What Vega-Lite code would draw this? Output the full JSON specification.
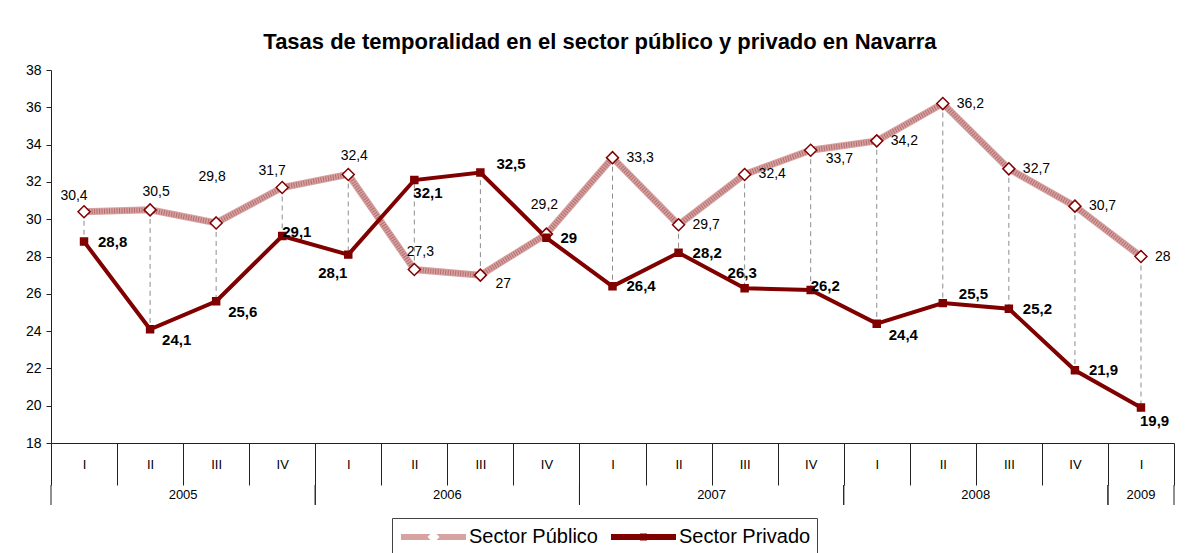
{
  "$schema": "https://vega.github.io/schema/vega-lite/v6.json",
  "padding": {"left": 25, "top": 31, "right": 10, "bottom": 5},
  "title": {"text": "Tasas de temporalidad en el sector público y privado en Navarra", "fontSize": 22, "fontWeight": "bold", "color": "#000", "offset": 9, "anchor": "middle", "frame": "bounds"},
  "config": {
    "view": {"stroke": null},
    "font": "Liberation Sans",
    "axisY": {"labelOverlap": false},
    "locale": {"number": {"decimal": ",", "thousands": ".", "grouping": [3], "currency": ["", " €"]}}
  },
  "data": {"values": [
    {"periodo": "2005 I", "anio": "2005", "trimestre": "I", "serie": "Sector Público", "valor": 30.4},
    {"periodo": "2005 I", "anio": "2005", "trimestre": "I", "serie": "Sector Privado", "valor": 28.8},
    {"periodo": "2005 II", "anio": "2005", "trimestre": "II", "serie": "Sector Público", "valor": 30.5},
    {"periodo": "2005 II", "anio": "2005", "trimestre": "II", "serie": "Sector Privado", "valor": 24.1},
    {"periodo": "2005 III", "anio": "2005", "trimestre": "III", "serie": "Sector Público", "valor": 29.8},
    {"periodo": "2005 III", "anio": "2005", "trimestre": "III", "serie": "Sector Privado", "valor": 25.6},
    {"periodo": "2005 IV", "anio": "2005", "trimestre": "IV", "serie": "Sector Público", "valor": 31.7},
    {"periodo": "2005 IV", "anio": "2005", "trimestre": "IV", "serie": "Sector Privado", "valor": 29.1},
    {"periodo": "2006 I", "anio": "2006", "trimestre": "I", "serie": "Sector Público", "valor": 32.4},
    {"periodo": "2006 I", "anio": "2006", "trimestre": "I", "serie": "Sector Privado", "valor": 28.1},
    {"periodo": "2006 II", "anio": "2006", "trimestre": "II", "serie": "Sector Público", "valor": 27.3},
    {"periodo": "2006 II", "anio": "2006", "trimestre": "II", "serie": "Sector Privado", "valor": 32.1},
    {"periodo": "2006 III", "anio": "2006", "trimestre": "III", "serie": "Sector Público", "valor": 27},
    {"periodo": "2006 III", "anio": "2006", "trimestre": "III", "serie": "Sector Privado", "valor": 32.5},
    {"periodo": "2006 IV", "anio": "2006", "trimestre": "IV", "serie": "Sector Público", "valor": 29.2},
    {"periodo": "2006 IV", "anio": "2006", "trimestre": "IV", "serie": "Sector Privado", "valor": 29},
    {"periodo": "2007 I", "anio": "2007", "trimestre": "I", "serie": "Sector Público", "valor": 33.3},
    {"periodo": "2007 I", "anio": "2007", "trimestre": "I", "serie": "Sector Privado", "valor": 26.4},
    {"periodo": "2007 II", "anio": "2007", "trimestre": "II", "serie": "Sector Público", "valor": 29.7},
    {"periodo": "2007 II", "anio": "2007", "trimestre": "II", "serie": "Sector Privado", "valor": 28.2},
    {"periodo": "2007 III", "anio": "2007", "trimestre": "III", "serie": "Sector Público", "valor": 32.4},
    {"periodo": "2007 III", "anio": "2007", "trimestre": "III", "serie": "Sector Privado", "valor": 26.3},
    {"periodo": "2007 IV", "anio": "2007", "trimestre": "IV", "serie": "Sector Público", "valor": 33.7},
    {"periodo": "2007 IV", "anio": "2007", "trimestre": "IV", "serie": "Sector Privado", "valor": 26.2},
    {"periodo": "2008 I", "anio": "2008", "trimestre": "I", "serie": "Sector Público", "valor": 34.2},
    {"periodo": "2008 I", "anio": "2008", "trimestre": "I", "serie": "Sector Privado", "valor": 24.4},
    {"periodo": "2008 II", "anio": "2008", "trimestre": "II", "serie": "Sector Público", "valor": 36.2},
    {"periodo": "2008 II", "anio": "2008", "trimestre": "II", "serie": "Sector Privado", "valor": 25.5},
    {"periodo": "2008 III", "anio": "2008", "trimestre": "III", "serie": "Sector Público", "valor": 32.7},
    {"periodo": "2008 III", "anio": "2008", "trimestre": "III", "serie": "Sector Privado", "valor": 25.2},
    {"periodo": "2008 IV", "anio": "2008", "trimestre": "IV", "serie": "Sector Público", "valor": 30.7},
    {"periodo": "2008 IV", "anio": "2008", "trimestre": "IV", "serie": "Sector Privado", "valor": 21.9},
    {"periodo": "2009 I", "anio": "2009", "trimestre": "I", "serie": "Sector Público", "valor": 28},
    {"periodo": "2009 I", "anio": "2009", "trimestre": "I", "serie": "Sector Privado", "valor": 19.9}
  ]},
  "vconcat": [
    {
      "width": 1123,
      "height": 373,
      "encoding": {
        "x": {"field": "periodo", "type": "nominal", "sort": null,
          "scale": {"paddingInner": 0, "paddingOuter": 0},
          "axis": {"title": null, "labelExpr": "split(datum.label, ' ')[1]", "tickBand": "extent", "tickSize": 42, "labelPadding": -27, "labelAngle": 0, "labelFontSize": 13, "labelColor": "#000", "domainColor": "#222", "tickColor": "#222", "minExtent": 42, "maxExtent": 42}}
      },
      "layer": [
        {
          "transform": [{"pivot": "serie", "value": "valor", "groupby": ["periodo"]}],
          "mark": {"type": "rule", "color": "#8c8c8c", "strokeWidth": 1, "strokeDash": [5, 4]},
          "encoding": {
            "y": {"field": "Sector Público", "type": "quantitative",
              "scale": {"domain": [18, 38], "nice": false, "zero": false},
              "axis": {"title": null, "values": [18, 20, 22, 24, 26, 28, 30, 32, 34, 36, 38], "tickCount": 11, "labelOverlap": false, "grid": false, "tickSize": 5, "labelPadding": 5, "labelFontSize": 14, "labelColor": "#000", "domainColor": "#222", "tickColor": "#222"}},
            "y2": {"field": "Sector Privado"}
          }
        },
        {
          "transform": [{"filter": {"field": "serie", "equal": "Sector Público"}}],
          "mark": {"type": "line", "strokeWidth": 7},
          "encoding": {
            "y": {"field": "valor", "type": "quantitative", "axis": {"title": null, "values": [18, 20, 22, 24, 26, 28, 30, 32, 34, 36, 38], "tickCount": 11, "labelOverlap": false, "grid": false, "tickSize": 5, "labelPadding": 5, "labelFontSize": 14, "labelColor": "#000", "domainColor": "#222", "tickColor": "#222"}},
            "stroke": {"field": "serie", "type": "nominal",
              "scale": {"domain": ["Sector Público", "Sector Privado"], "range": ["#d6a2a2", "#800000"]},
              "legend": {"orient": "none", "legendX": 341, "legendY": 448, "direction": "horizontal", "title": null, "symbolType": "M-1,0H1", "symbolSize": 4225, "symbolStrokeWidth": 6, "clipHeight": 26, "labelFontSize": 20, "labelOffset": 0, "columnPadding": 10, "padding": 6, "strokeColor": "#444", "labelColor": "#000", "labelFont": "Liberation Sans"}}
          }
        },
        {
          "transform": [{"filter": {"field": "serie", "equal": "Sector Público"}}],
          "mark": {"type": "line", "strokeWidth": 5, "color": "#a04848", "strokeDash": [1, 1.5], "opacity": 0.6},
          "encoding": {
            "y": {"field": "valor", "type": "quantitative"}
          }
        },
        {
          "transform": [{"filter": {"field": "serie", "equal": "Sector Privado"}}],
          "mark": {"type": "line", "strokeWidth": 4},
          "encoding": {
            "y": {"field": "valor", "type": "quantitative"},
            "stroke": {"field": "serie", "type": "nominal"}
          }
        },
        {
          "mark": {"type": "point", "filled": true, "stroke": "#800000", "strokeWidth": 1.5, "size": 4761, "opacity": 1},
          "encoding": {
            "y": {"field": "valor", "type": "quantitative"},
            "fill": {"field": "serie", "type": "nominal", "sort": "descending",
              "scale": {"range": ["#ffffff", "#800000"]},
              "legend": {"orient": "none", "legendX": 341, "legendY": 448, "direction": "horizontal", "title": null, "symbolSize": 4761, "symbolStrokeWidth": 1.5, "symbolStrokeColor": "#800000", "clipHeight": 26, "labelFontSize": 20, "labelOffset": 0, "columnPadding": 10, "padding": 6, "labelColor": "transparent", "labelFont": "Liberation Sans"}},
            "shape": {"field": "serie", "type": "nominal", "sort": "descending",
              "scale": {"range": ["M0,-0.174L0.174,0L0,0.174L-0.174,0Z", "M-0.101,-0.101H0.101V0.101H-0.101Z"]},
              "legend": {"orient": "none", "legendX": 341, "legendY": 448, "direction": "horizontal", "title": null, "symbolSize": 4761, "symbolStrokeWidth": 1.5, "symbolStrokeColor": "#800000", "clipHeight": 26, "labelFontSize": 20, "labelOffset": 0, "columnPadding": 10, "padding": 6, "labelColor": "transparent", "labelFont": "Liberation Sans"}}
          }
        },
        {
          "transform": [{"filter": {"and": [{"field": "serie", "equal": "Sector Público"}, {"field": "periodo", "oneOf": ["2007 I", "2007 II", "2007 III", "2008 I", "2008 II", "2008 III", "2008 IV", "2009 I"]}]}}],
          "mark": {"type": "text", "fontSize": 14, "color": "#000", "align": "left", "baseline": "middle", "dx": 14, "dy": 0},
          "encoding": {"y": {"field": "valor", "type": "quantitative"}, "text": {"field": "valor", "type": "quantitative", "format": "~g"}}
        },
        {
          "transform": [{"filter": {"and": [{"field": "serie", "equal": "Sector Público"}, {"field": "periodo", "oneOf": ["2006 III", "2007 IV"]}]}}],
          "mark": {"type": "text", "fontSize": 14, "color": "#000", "align": "left", "baseline": "middle", "dx": 15, "dy": 9},
          "encoding": {"y": {"field": "valor", "type": "quantitative"}, "text": {"field": "valor", "type": "quantitative", "format": "~g"}}
        },
        {
          "transform": [{"filter": {"and": [{"field": "serie", "equal": "Sector Público"}, {"field": "periodo", "oneOf": ["2005 II", "2006 I", "2006 II"]}]}}],
          "mark": {"type": "text", "fontSize": 14, "color": "#000", "align": "center", "baseline": "middle", "dx": 6, "dy": -18},
          "encoding": {"y": {"field": "valor", "type": "quantitative"}, "text": {"field": "valor", "type": "quantitative", "format": "~g"}}
        },
        {
          "transform": [{"filter": {"and": [{"field": "serie", "equal": "Sector Público"}, {"field": "periodo", "oneOf": ["2005 I", "2005 IV"]}]}}],
          "mark": {"type": "text", "fontSize": 14, "color": "#000", "align": "center", "baseline": "middle", "dx": -10, "dy": -16},
          "encoding": {"y": {"field": "valor", "type": "quantitative"}, "text": {"field": "valor", "type": "quantitative", "format": "~g"}}
        },
        {
          "transform": [{"filter": {"and": [{"field": "serie", "equal": "Sector Público"}, {"field": "periodo", "oneOf": ["2006 IV"]}]}}],
          "mark": {"type": "text", "fontSize": 14, "color": "#000", "align": "center", "baseline": "middle", "dx": -2, "dy": -29},
          "encoding": {"y": {"field": "valor", "type": "quantitative"}, "text": {"field": "valor", "type": "quantitative", "format": "~g"}}
        },
        {
          "transform": [{"filter": {"and": [{"field": "serie", "equal": "Sector Público"}, {"field": "periodo", "oneOf": ["2005 III"]}]}}],
          "mark": {"type": "text", "fontSize": 14, "color": "#000", "align": "center", "baseline": "middle", "dx": -4, "dy": -46},
          "encoding": {"y": {"field": "valor", "type": "quantitative"}, "text": {"field": "valor", "type": "quantitative", "format": "~g"}}
        },
        {
          "transform": [{"filter": {"and": [{"field": "serie", "equal": "Sector Privado"}, {"field": "periodo", "oneOf": ["2005 I", "2006 IV", "2007 I", "2007 II", "2008 III", "2008 IV"]}]}}],
          "mark": {"type": "text", "fontSize": 15, "fontWeight": "bold", "color": "#000", "align": "left", "baseline": "middle", "dx": 14, "dy": 0},
          "encoding": {"y": {"field": "valor", "type": "quantitative"}, "text": {"field": "valor", "type": "quantitative", "format": "~g"}}
        },
        {
          "transform": [{"filter": {"and": [{"field": "serie", "equal": "Sector Privado"}, {"field": "periodo", "oneOf": ["2005 II", "2005 III", "2008 I"]}]}}],
          "mark": {"type": "text", "fontSize": 15, "fontWeight": "bold", "color": "#000", "align": "left", "baseline": "middle", "dx": 12, "dy": 11},
          "encoding": {"y": {"field": "valor", "type": "quantitative"}, "text": {"field": "valor", "type": "quantitative", "format": "~g"}}
        },
        {
          "transform": [{"filter": {"and": [{"field": "serie", "equal": "Sector Privado"}, {"field": "periodo", "oneOf": ["2005 IV", "2007 IV"]}]}}],
          "mark": {"type": "text", "fontSize": 15, "fontWeight": "bold", "color": "#000", "align": "left", "baseline": "middle", "dx": 0, "dy": -4},
          "encoding": {"y": {"field": "valor", "type": "quantitative"}, "text": {"field": "valor", "type": "quantitative", "format": "~g"}}
        },
        {
          "transform": [{"filter": {"and": [{"field": "serie", "equal": "Sector Privado"}, {"field": "periodo", "oneOf": ["2006 II", "2009 I"]}]}}],
          "mark": {"type": "text", "fontSize": 15, "fontWeight": "bold", "color": "#000", "align": "left", "baseline": "middle", "dx": -1, "dy": 13},
          "encoding": {"y": {"field": "valor", "type": "quantitative"}, "text": {"field": "valor", "type": "quantitative", "format": "~g"}}
        },
        {
          "transform": [{"filter": {"and": [{"field": "serie", "equal": "Sector Privado"}, {"field": "periodo", "oneOf": ["2006 III", "2008 II"]}]}}],
          "mark": {"type": "text", "fontSize": 15, "fontWeight": "bold", "color": "#000", "align": "left", "baseline": "middle", "dx": 16, "dy": -9},
          "encoding": {"y": {"field": "valor", "type": "quantitative"}, "text": {"field": "valor", "type": "quantitative", "format": "~g"}}
        },
        {
          "transform": [{"filter": {"and": [{"field": "serie", "equal": "Sector Privado"}, {"field": "periodo", "oneOf": ["2006 I"]}]}}],
          "mark": {"type": "text", "fontSize": 15, "fontWeight": "bold", "color": "#000", "align": "left", "baseline": "middle", "dx": -30, "dy": 18},
          "encoding": {"y": {"field": "valor", "type": "quantitative"}, "text": {"field": "valor", "type": "quantitative", "format": "~g"}}
        },
        {
          "transform": [{"filter": {"and": [{"field": "serie", "equal": "Sector Privado"}, {"field": "periodo", "oneOf": ["2007 III"]}]}}],
          "mark": {"type": "text", "fontSize": 15, "fontWeight": "bold", "color": "#000", "align": "left", "baseline": "middle", "dx": -17, "dy": -15},
          "encoding": {"y": {"field": "valor", "type": "quantitative"}, "text": {"field": "valor", "type": "quantitative", "format": "~g"}}
        }
      ]
    },
    {
      "width": 1123,
      "height": 20,
      "transform": [
        {"filter": {"field": "serie", "equal": "Sector Público"}},
        {"window": [{"op": "row_number", "as": "n"}]},
        {"aggregate": [{"op": "min", "field": "n", "as": "primero"}, {"op": "max", "field": "n", "as": "ultimo"}], "groupby": ["anio"]},
        {"calculate": "datum.primero - 1", "as": "inicio"},
        {"calculate": "(datum.primero - 1 + datum.ultimo) / 2", "as": "centro"}
      ],
      "layer": [
        {
          "mark": {"type": "rule", "color": "#222", "strokeWidth": 1},
          "encoding": {"x": {"field": "inicio", "type": "quantitative", "scale": {"domain": [0, 17], "nice": false, "zero": false}, "axis": null}}
        },
        {
          "mark": {"type": "rule", "color": "#222", "strokeWidth": 1},
          "encoding": {"x": {"field": "ultimo", "type": "quantitative"}}
        },
        {
          "mark": {"type": "text", "fontSize": 13, "color": "#000", "baseline": "middle"},
          "encoding": {"x": {"field": "centro", "type": "quantitative"}, "text": {"field": "anio", "type": "nominal"}}
        }
      ]
    }
  ],
  "bounds": "flush",
  "spacing": 42
}
